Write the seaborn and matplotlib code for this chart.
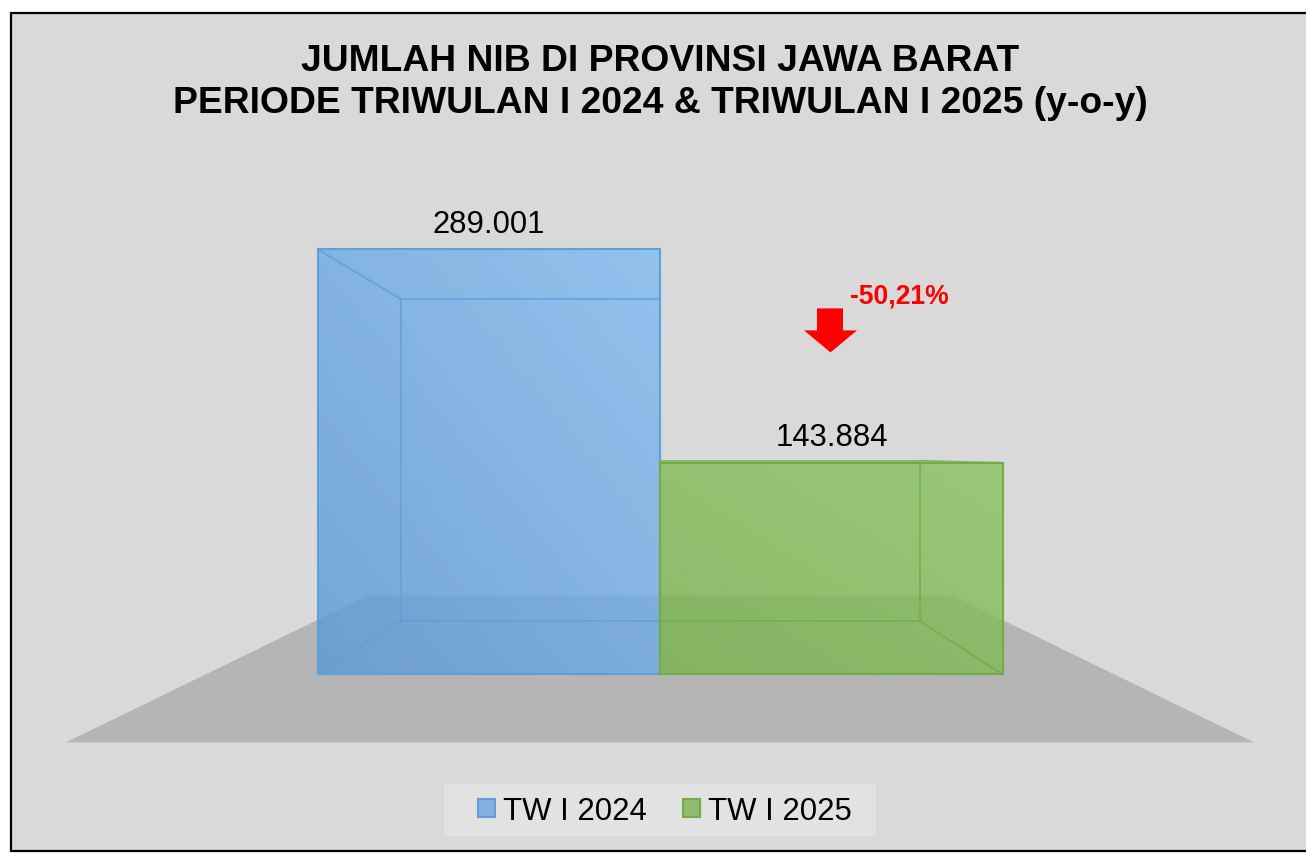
import numpy as np
import matplotlib
matplotlib.use("Agg")
import matplotlib.pyplot as plt
import seaborn as sns
from matplotlib.patches import Polygon, Rectangle

periode = ["TW I 2024", "TW I 2025"]
jumlah = [289001, 143884]
label_jumlah = ["289.001", "143.884"]
warna = ["#86b0dc", "#8fbb6f"]
warna_tepi = ["#5f9fdc", "#70ad47"]
# gradien: pojok gelap (kiri bawah) dan pojok terang (kanan atas)
warna_gelap = [(92, 153, 212), (120, 180, 77)]
warna_terang = [(130, 188, 244), (137, 196, 96)]
judul = "JUMLAH NIB DI PROVINSI JAWA BARAT\nPERIODE TRIWULAN I 2024 & TRIWULAN I 2025 (y-o-y)"
label_turun = "-50,21%"

W, H = 1306, 854
sns.set_theme(style="white")
plt.rcParams["font.family"] = ["Liberation Sans", "DejaVu Sans"]

fig = plt.figure(figsize=(W / 100, H / 100), dpi=100, facecolor="white")
fig.add_artist(Rectangle((11 / W, 1 - 852 / H), (W + 20) / W, (852 - 14) / H, transform=fig.transFigure,
                         facecolor="#d9d9d9", edgecolor="black", linewidth=1.6, zorder=-5))
# latar legenda
fig.add_artist(Rectangle((444 / W, 1 - 837 / H), 432 / W, 52 / H, transform=fig.transFigure,
                         facecolor="#e2e2e2", edgecolor="none", zorder=-4))
ax = fig.add_axes([0, 0, 1, 1])
ax.patch.set_alpha(0)

# skala: lebar satu batang 342.5 px, dasar batang di y=675 px
px_batang = 342.5
px_nilai = (675 - 250) / jumlah[0]
xlim = (-489 / px_batang, (W - 489) / px_batang)
ylim = (-(H - 675.4) / px_nilai, 675.4 / px_nilai)


def px(x, y):
    return (x - 489) / px_batang, (675 - y) / px_nilai


sns.barplot(x=periode, y=jumlah, hue=periode, palette=warna, dodge=False, width=1, saturation=1,
            linewidth=1.5, ax=ax, zorder=3)
bars = [c[0] for c in ax.containers if len(c) and c[0].get_height() > 0]
for b, e in zip(bars, warna_tepi):
    b.set_edgecolor(e)

leg = ax.legend(bars, periode, ncol=2, loc="center", bbox_to_anchor=(665 / W, 1 - 812 / H),
                bbox_transform=fig.transFigure, fontsize=22.4, frameon=False, handlelength=0.55,
                handleheight=0.55, handletextpad=0.25, columnspacing=1.17, borderpad=0.42, borderaxespad=0)
for t in leg.get_texts():
    t.set_color("black")

# lantai
lantai = [px(66, 743), px(1254, 743), px(952, 596), px(368, 596)]
ax.add_patch(Polygon(lantai, closed=True, facecolor="#b5b5b5", edgecolor="none", zorder=1))

# muka depan dengan gradien, lantai tetap terlihat
gx, gy = np.meshgrid(np.linspace(0, 1, 64), np.linspace(1, 0, 64))
bobot = (gx + gy) / 2
for b, gelap, terang in zip(bars, warna_gelap, warna_terang):
    rgb = np.array(gelap) + bobot[..., None] * (np.array(terang) - np.array(gelap))
    rgba = np.dstack([rgb / 255, np.full(bobot.shape, 0.8)])
    im = ax.imshow(rgba, extent=(b.get_x(), b.get_x() + b.get_width(), 0, b.get_height()),
                   aspect="auto", interpolation="bilinear", zorder=2)
    im.set_clip_path(b)
    b.set_facecolor("none")

# kotak 3D: sisi belakang diproyeksikan ke titik hilang
vx, vy = px(660.5, 455)
skala = 0.758


def belakang(x, y):
    return vx + skala * (x - vx), vy + skala * (y - vy)


def garis(p, q, warna_garis):
    ax.plot([p[0], q[0]], [p[1], q[1]], color=warna_garis, linewidth=1.3, alpha=0.8, zorder=3,
            solid_capstyle="round")


x_kiri, x_tengah = bars[0].get_x(), bars[0].get_x() + bars[0].get_width()
x_kanan = bars[1].get_x() + bars[1].get_width()
t_biru, t_hijau = bars[0].get_height(), bars[1].get_height()

atas_kiri = belakang(x_kiri, t_biru)
bawah_kiri = belakang(x_kiri, 0)
garis((x_kiri, t_biru), atas_kiri, warna_tepi[0])
garis((x_kiri, 0), bawah_kiri, warna_tepi[0])
garis(atas_kiri, bawah_kiri, warna_tepi[0])
garis(atas_kiri, (x_tengah, atas_kiri[1]), warna_tepi[0])
garis(bawah_kiri, (x_tengah, bawah_kiri[1]), warna_tepi[0])

atas_kanan = belakang(x_kanan, t_hijau)
bawah_kanan = belakang(x_kanan, 0)
garis((x_kanan, t_hijau), atas_kanan, warna_tepi[1])
garis((x_kanan, 0), bawah_kanan, warna_tepi[1])
garis(atas_kanan, bawah_kanan, warna_tepi[1])
garis(atas_kanan, (x_tengah, atas_kanan[1]), warna_tepi[1])
garis(bawah_kanan, (x_tengah, bawah_kanan[1]), warna_tepi[1])

for b, teks in zip(bars, label_jumlah):
    ax.annotate(teks, (b.get_x() + b.get_width() / 2, b.get_height()), xytext=(0, 7.8),
                textcoords="offset points", ha="center", va="bottom", fontsize=22.3, color="black")

# panah turun
panah = [px(817, 309), px(843, 309), px(843, 331), px(857, 331), px(830.5, 353), px(804, 331), px(817, 331)]
ax.add_patch(Polygon(panah, closed=True, facecolor="#ff0000", edgecolor="none", zorder=4))
ax.text(*px(899.5, 296), label_turun, color="#ff0000", fontsize=19.1, fontweight="bold", ha="center", va="center")

fig.text(660.5 / W, 1 - 82.5 / H, judul, ha="center", va="center", fontsize=26.85, fontweight="bold",
         color="black", linespacing=1.245)

ax.set_xlim(xlim)
ax.set_ylim(ylim)
ax.axis("off")
fig.savefig("out.png", dpi=100)
plt.close(fig)
